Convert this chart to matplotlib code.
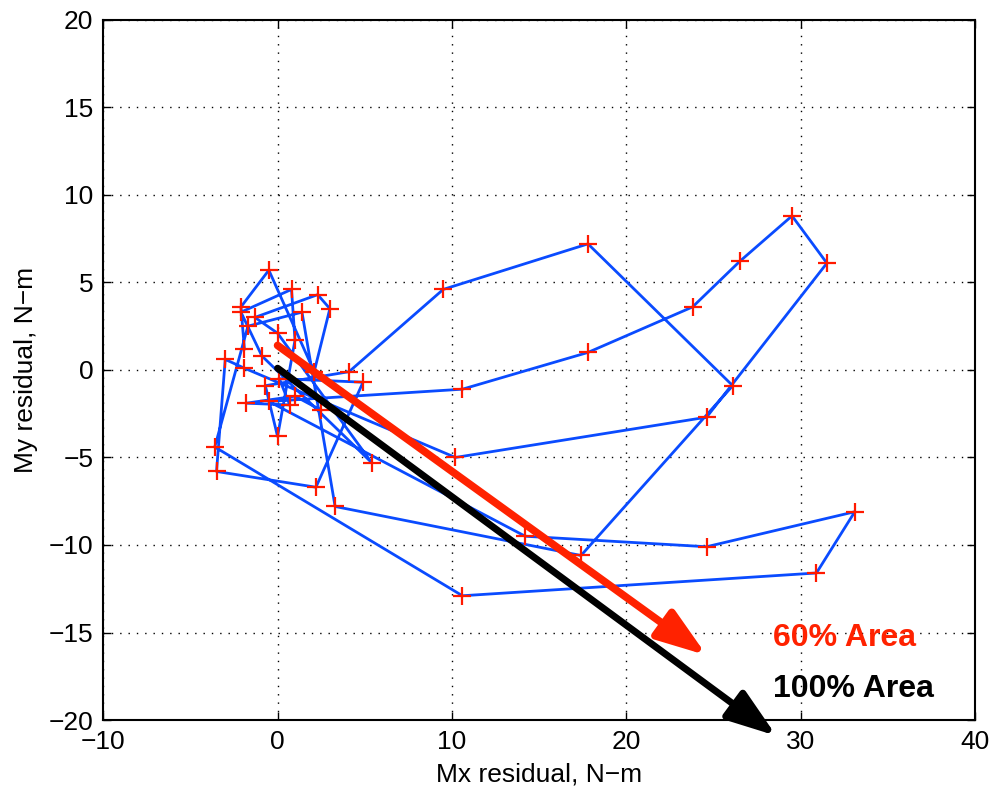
import matplotlib
matplotlib.use('Agg')
import matplotlib.pyplot as plt
import numpy as np

plt.rcParams['font.family'] = ['Liberation Sans', 'DejaVu Sans']

# residual path (Mx, My), in the order the trace visits them
mx = [-1.9, -2.1, -0.5, 2.1, 3.0, 2.3, -1.3, 0.0, 5.4, -0.9,
      -2.1, 0.8, 1.0, 0.0, -0.7, 4.1, 9.5, 17.8, 26.1, 17.4,
      3.3, 1.4, -1.7, -3.6, 10.6, 30.9, 33.1, 24.6, 14.2, -0.5,
      10.6, 17.8, 23.8, 26.5, 29.5, 31.5, 24.6, 10.2, -1.9, -3.0,
      -3.5, 2.2, 4.9, 0.1, 0.7, -1.8, 1.0, 2.5]
my = [1.2, 3.6, 5.7, -0.1, 3.5, 4.3, 3.0, 2.1, -5.3, 0.8,
      3.3, 4.6, 1.7, -3.8, -0.9, -0.1, 4.6, 7.2, -0.9, -10.6,
      -7.8, 3.3, 2.5, -4.4, -12.9, -11.6, -8.1, -10.1, -9.5, -1.8,
      -1.1, 1.0, 3.6, 6.2, 8.8, 6.1, -2.7, -5.0, 0.1, 0.6,
      -5.8, -6.7, -0.7, -0.5, -2.0, -1.9, -1.5, -2.3]

# arrows: start and tip
red_start, red_end = (0.0, 1.4), (24.6, -16.3)
blk_start, blk_end = (0.0, 0.1), (28.6, -20.9)

fig = plt.figure(figsize=(9.92, 7.93), dpi=100)
ax = fig.add_axes([0.104, 0.092, 0.879, 0.883])

ax.plot(mx, my, '-', color='#0a4bff', lw=2.0, zorder=3)
ax.plot(mx, my, '+', color='#ff1a00', ms=13, mew=1.6, zorder=4)

head = '-|>,head_length=0.75,head_width=0.26'
ax.annotate('', xy=red_end, xytext=red_start,
            arrowprops=dict(arrowstyle=head, color='#ff2200', lw=5.5,
                            mutation_scale=40, shrinkA=0, shrinkB=0),
            annotation_clip=False, zorder=6)
ax.annotate('', xy=blk_end, xytext=blk_start,
            arrowprops=dict(arrowstyle=head, color='black', lw=5,
                            mutation_scale=40, shrinkA=0, shrinkB=0),
            annotation_clip=False, zorder=5)

ax.text(28.4, -15.3, '60% Area', color='#ff2200', fontsize=23,
        fontweight='bold', va='center', ha='left', zorder=7)
ax.text(28.4, -18.2, '100% Area', color='black', fontsize=23,
        fontweight='bold', va='center', ha='left', zorder=7)

ax.set_xlim(-10, 40)
ax.set_ylim(-20, 20)
ax.set_xticks(np.arange(-10, 41, 10))
ax.set_yticks(np.arange(-20, 21, 5))
ax.grid(True, linestyle=(0, (1, 5)), color='black', lw=1.0)
ax.tick_params(direction='in', top=True, right=True, labelsize=19,
               length=6, width=1, pad=7)
for s in ax.spines.values():
    s.set_linewidth(1.5)

ax.set_xlabel('Mx residual, N\u2212m', fontsize=19, labelpad=6)
ax.set_ylabel('My residual, N\u2212m', fontsize=19, labelpad=8)

fig.savefig('out.png', dpi=100)
